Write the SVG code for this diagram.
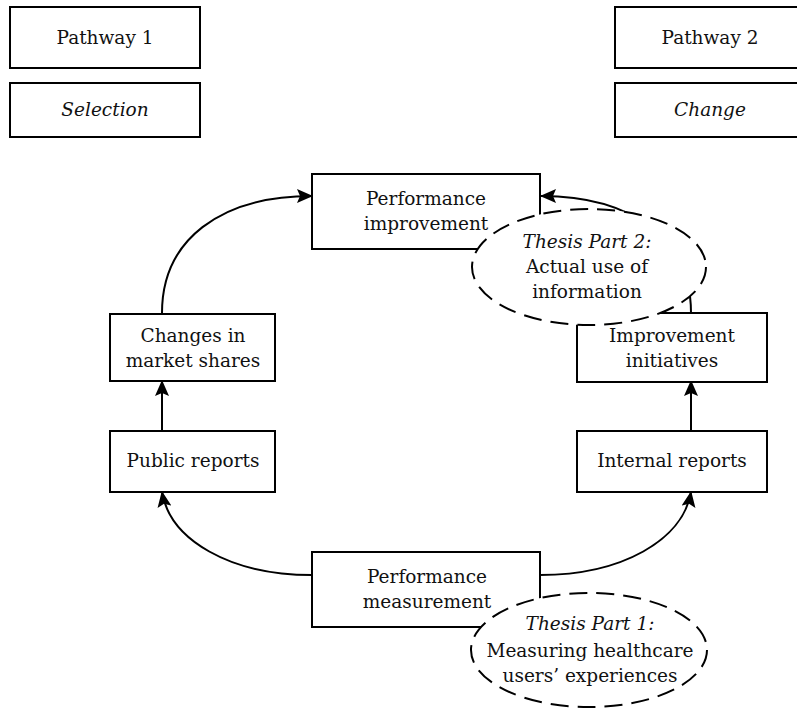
<svg xmlns="http://www.w3.org/2000/svg" width="797" height="708" viewBox="0 0 797 708">
<defs>
<marker id="ah" markerWidth="16" markerHeight="14" refX="15" refY="7" orient="auto" markerUnits="userSpaceOnUse">
<path d="M0,0 L16,7 L0,14 L3,7 Z" fill="#000"/>
</marker>
<style>
.box{fill:#fff;stroke:#000;stroke-width:2}
.ell{fill:#fff;stroke:#000;stroke-width:2;stroke-dasharray:18 9}
.con{fill:none;stroke:#000;stroke-width:2}
text{font-family:"DejaVu Serif","Liberation Serif",serif;font-size:18.5px;fill:#111;text-anchor:middle}
.it{font-style:italic}
</style>
</defs>
<rect width="797" height="708" fill="#fff"/>
<g id="pathway1"><rect class="box" x="10" y="7" width="190" height="61"/><text x="105" y="44">Pathway 1</text></g>
<g id="selection"><rect class="box" x="10" y="83" width="190" height="54"/><text class="it" x="105" y="116">Selection</text></g>
<g id="pathway2"><rect class="box" x="615" y="7" width="190" height="61"/><text x="710" y="44">Pathway 2</text></g>
<g id="change"><rect class="box" x="615" y="83" width="190" height="54"/><text class="it" x="710" y="116">Change</text></g>
<g id="connectors">
<path class="con" d="M162,313 C162,240 220,196 312,196" marker-end="url(#ah)"/>
<path class="con" d="M691,313 C691,240 633,196 541,196" marker-end="url(#ah)"/>
<path class="con" d="M162,431 L162,381" marker-end="url(#ah)"/>
<path class="con" d="M691,431 L691,381" marker-end="url(#ah)"/>
<path class="con" d="M312,575 C230,575 170,540 162,492" marker-end="url(#ah)"/>
<path class="con" d="M540,575 C622,575 683,540 691,492" marker-end="url(#ah)"/>
</g>
<g id="perf-improvement"><rect class="box" x="312" y="174" width="228" height="75"/><text x="426" y="205">Performance</text><text x="426" y="230">improvement</text></g>
<g id="market-shares"><rect class="box" x="110" y="314" width="165" height="67"/><text x="193" y="342">Changes in</text><text x="193" y="367">market shares</text></g>
<g id="public-reports"><rect class="box" x="110" y="431" width="165" height="61"/><text x="193" y="467">Public reports</text></g>
<g id="improvement-initiatives"><rect class="box" x="577" y="313" width="190" height="69"/><text x="672" y="342">Improvement</text><text x="672" y="367">initiatives</text></g>
<g id="internal-reports"><rect class="box" x="577" y="431" width="190" height="61"/><text x="672" y="467">Internal reports</text></g>
<g id="perf-measurement"><rect class="box" x="312" y="552" width="228" height="75"/><text x="427" y="583">Performance</text><text x="427" y="608">measurement</text></g>
<g id="thesis2"><ellipse class="ell" cx="589" cy="267" rx="117" ry="58"/><text class="it" x="587" y="248">Thesis Part 2:</text><text x="587" y="273">Actual use of</text><text x="587" y="298">information</text></g>
<g id="thesis1"><ellipse class="ell" cx="589" cy="650" rx="118" ry="57"/><text class="it" x="590" y="630">Thesis Part 1:</text><text x="590" y="657">Measuring healthcare</text><text x="590" y="682">users’ experiences</text></g>
</svg>
